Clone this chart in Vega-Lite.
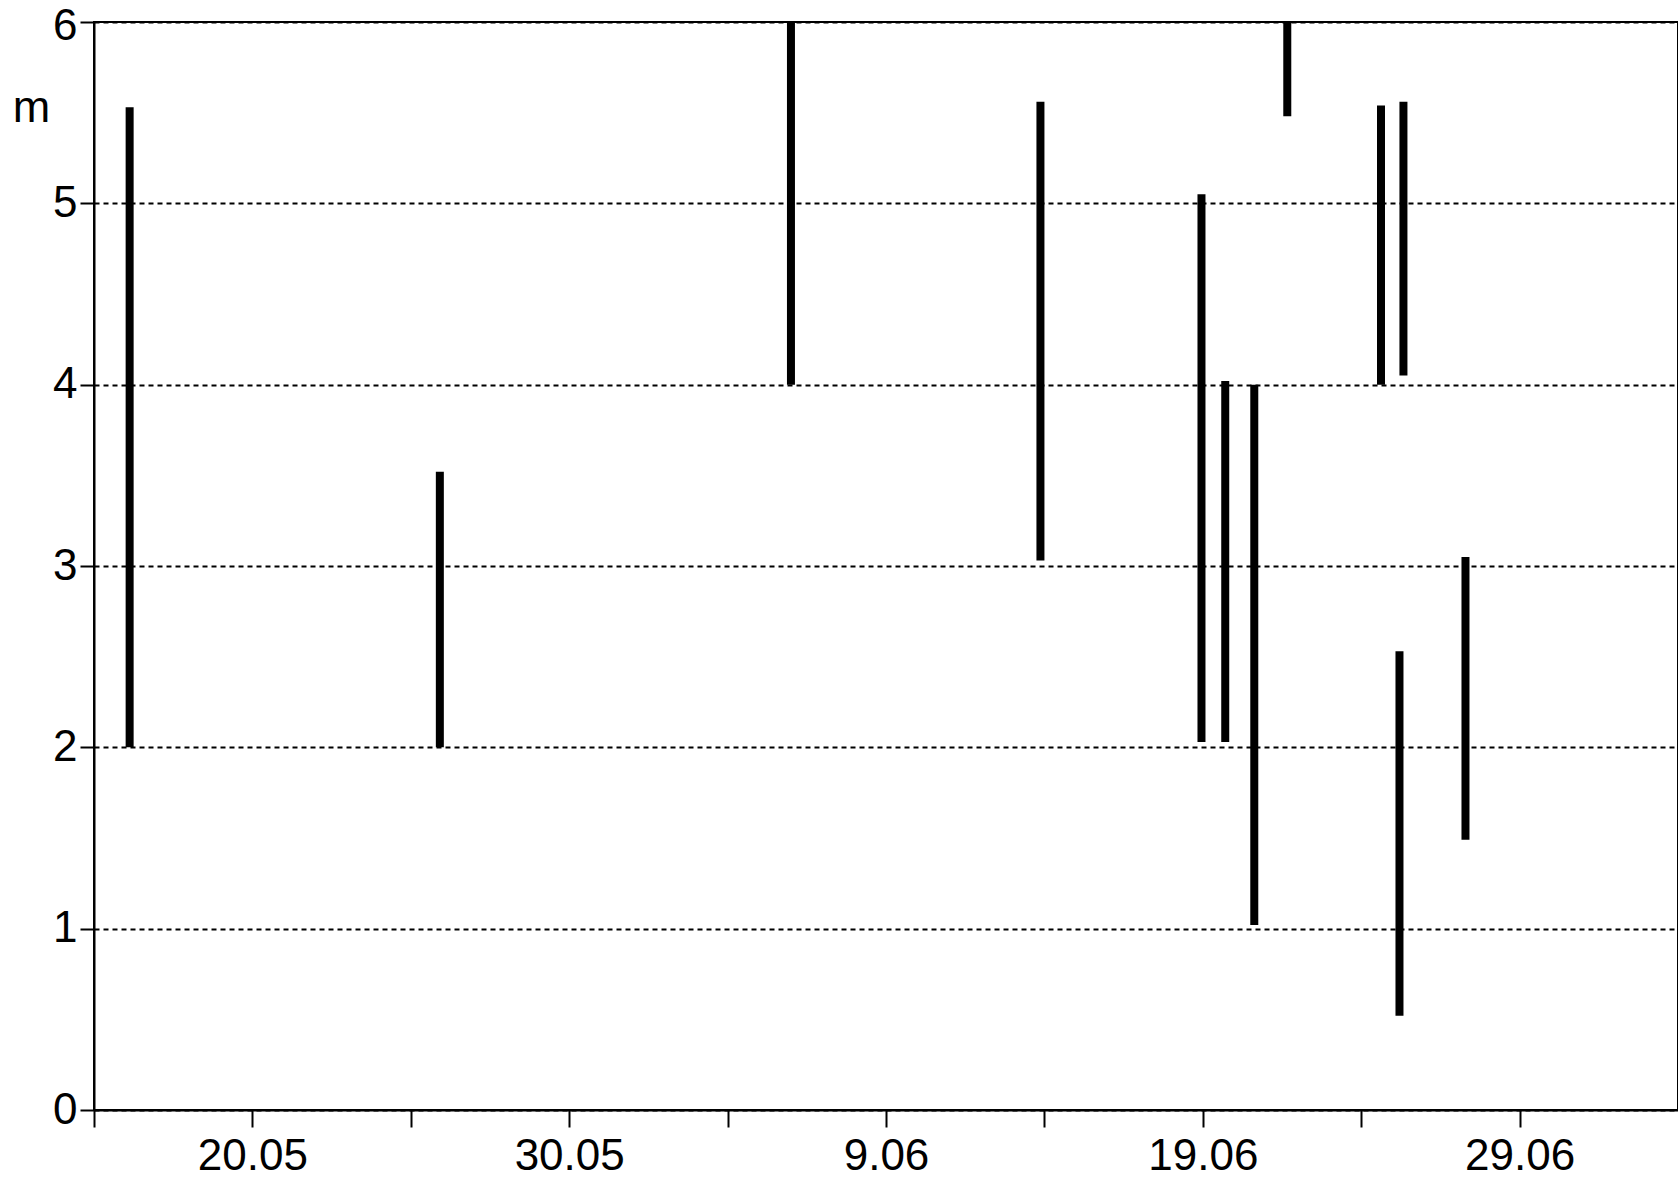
{
  "$schema": "https://vega.github.io/schema/vega-lite/v6.json",
  "autosize": "none",
  "width": 1584,
  "height": 1088,
  "padding": {"left": 94, "top": 22, "right": 0, "bottom": 68},
  "background": "white",
  "config": {
    "view": {"stroke": "black", "strokeWidth": 2},
    "font": "Liberation Sans"
  },
  "data": {
    "values": [
      {"date": "2024-05-16T03:00:00Z", "low": 2.0, "high": 5.53},
      {"date": "2024-05-25T22:00:00Z", "low": 2.0, "high": 3.52},
      {"date": "2024-06-06T00:00:00Z", "low": 4.0, "high": 6.0},
      {"date": "2024-06-13T21:00:00Z", "low": 3.03, "high": 5.56},
      {"date": "2024-06-18T23:00:00Z", "low": 2.03, "high": 5.05},
      {"date": "2024-06-19T17:00:00Z", "low": 2.03, "high": 4.02},
      {"date": "2024-06-20T15:00:00Z", "low": 1.02, "high": 4.0},
      {"date": "2024-06-21T16:00:00Z", "low": 5.48, "high": 6.0},
      {"date": "2024-06-24T15:00:00Z", "low": 4.0, "high": 5.54},
      {"date": "2024-06-25T08:00:00Z", "low": 4.05, "high": 5.56},
      {"date": "2024-06-25T05:00:00Z", "low": 0.52, "high": 2.53},
      {"date": "2024-06-27T07:00:00Z", "low": 1.49, "high": 3.05}
    ]
  },
  "mark": {"type": "rule", "strokeWidth": 8, "color": "black", "strokeCap": "butt"},
  "encoding": {
    "x": {
      "field": "date",
      "type": "temporal",
      "scale": {
        "type": "utc",
        "domain": [
          {"year": 2024, "month": 5, "date": 15, "utc": true},
          {"year": 2024, "month": 7, "date": 4, "utc": true}
        ]
      },
      "axis": {
        "title": null,
        "grid": false,
        "values": [
          {"year": 2024, "month": 5, "date": 15, "utc": true},
          {"year": 2024, "month": 5, "date": 20, "utc": true},
          {"year": 2024, "month": 5, "date": 25, "utc": true},
          {"year": 2024, "month": 5, "date": 30, "utc": true},
          {"year": 2024, "month": 6, "date": 4, "utc": true},
          {"year": 2024, "month": 6, "date": 9, "utc": true},
          {"year": 2024, "month": 6, "date": 14, "utc": true},
          {"year": 2024, "month": 6, "date": 19, "utc": true},
          {"year": 2024, "month": 6, "date": 24, "utc": true},
          {"year": 2024, "month": 6, "date": 29, "utc": true}
        ],
        "format": "%-d.%m",
        "labelExpr": "indexof(['20.05','30.05','9.06','19.06','29.06'], datum.label) >= 0 ? datum.label : ''",
        "labelFontSize": 44,
        "labelColor": "black",
        "labelPadding": 7,
        "labelFlush": false,
        "labelOverlap": false,
        "tickSize": 17,
        "tickWidth": 2,
        "tickColor": "black",
        "domainColor": "black",
        "domainWidth": 2
      }
    },
    "y": {
      "field": "low",
      "type": "quantitative",
      "scale": {"domain": [0, 6], "nice": false},
      "axis": {
        "title": "m",
        "titleAngle": 0,
        "titleX": -63,
        "titleY": 85,
        "titleAlign": "center",
        "titleBaseline": "middle",
        "titleFontSize": 45,
        "titleFontWeight": "normal",
        "titleColor": "black",
        "values": [0, 1, 2, 3, 4, 5, 6],
        "labelFontSize": 44,
        "labelColor": "black",
        "labelPadding": 3,
        "labelOffset": {"condition": {"test": "datum.value == 6", "value": 4}, "value": 0},
        "labelFlush": false,
        "tickSize": 14,
        "tickWidth": 2,
        "tickColor": "black",
        "domainColor": "black",
        "domainWidth": 2,
        "grid": true,
        "gridColor": "black",
        "gridWidth": 2,
        "gridDash": [5, 4],
        "gridOpacity": 1
      }
    },
    "y2": {"field": "high"}
  }
}
